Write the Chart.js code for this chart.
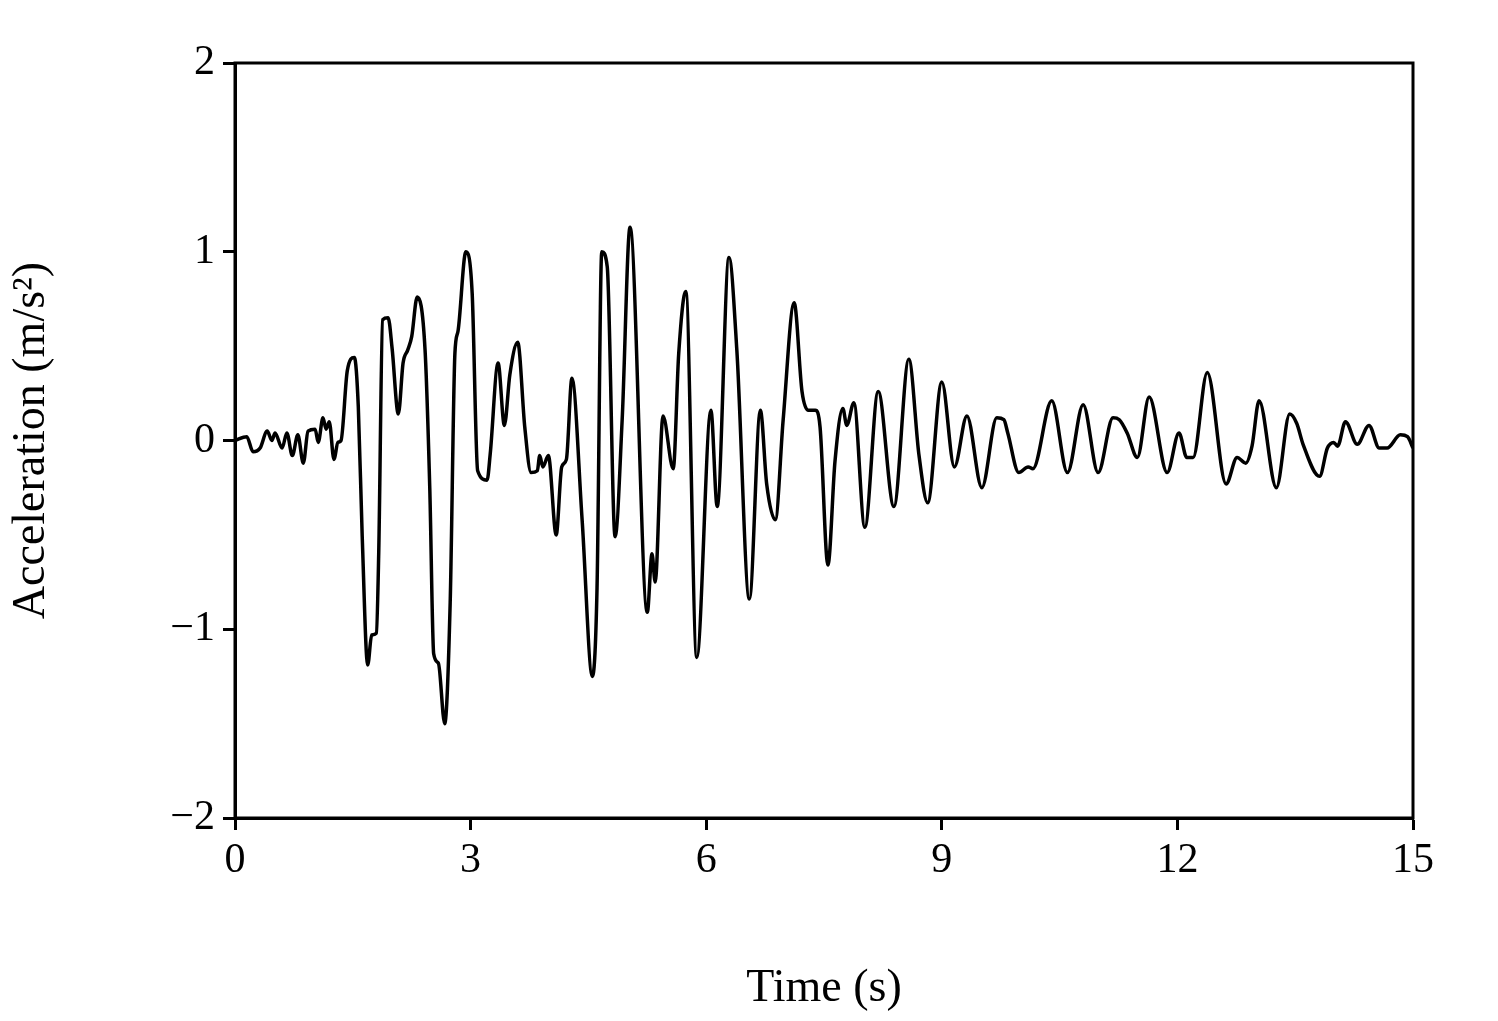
<!DOCTYPE html>
<html>
<head>
<meta charset="utf-8">
<style>
  html, body { margin: 0; padding: 0; background: #fff; }
  #wrap { width: 1498px; height: 1021px; }
</style>
<script src="https://cdn.jsdelivr.net/npm/chart.js@4/dist/chart.umd.min.js"></script>
</head>
<body>
<div id="wrap"><canvas id="accChart"></canvas></div>
<script>
// time (s) and acceleration (m/s^2)
const timeS = [0.00,0.15,0.23,0.32,0.41,0.47,0.51,0.60,0.66,0.73,0.80,0.87,0.93,1.02,1.06,1.12,1.16,1.20,1.26,1.31,1.35,1.43,1.52,1.57,1.62,1.69,1.74,1.80,1.83,1.88,1.95,2.00,2.08,2.14,2.20,2.25,2.32,2.42,2.48,2.53,2.59,2.67,2.74,2.80,2.84,2.94,3.02,3.09,3.21,3.25,3.35,3.43,3.50,3.60,3.69,3.77,3.85,3.88,3.92,3.99,4.09,4.16,4.22,4.29,4.42,4.55,4.61,4.67,4.74,4.84,4.93,5.03,5.25,5.31,5.35,5.45,5.58,5.65,5.74,5.88,6.06,6.14,6.29,6.39,6.55,6.69,6.77,6.88,6.98,7.12,7.22,7.30,7.39,7.45,7.55,7.64,7.74,7.79,7.88,8.02,8.19,8.39,8.58,8.71,8.82,9.00,9.16,9.32,9.51,9.70,9.79,9.84,9.98,10.10,10.16,10.40,10.60,10.80,10.99,11.18,11.26,11.36,11.49,11.64,11.87,12.02,12.12,12.20,12.38,12.62,12.76,12.87,12.95,13.04,13.26,13.43,13.52,13.60,13.81,13.91,13.99,14.04,14.14,14.29,14.44,14.57,14.67,14.84,14.93,15.00];
const accel = [0.00,0.02,-0.06,-0.04,0.05,0.00,0.04,-0.04,0.04,-0.08,0.03,-0.12,0.05,0.06,-0.01,0.12,0.06,0.10,-0.10,-0.01,0.00,0.37,0.44,0.18,-0.51,-1.19,-1.03,-1.02,-0.60,0.64,0.65,0.49,0.14,0.41,0.48,0.55,0.76,0.48,-0.25,-1.13,-1.18,-1.50,-0.86,0.46,0.58,1.00,0.78,-0.16,-0.21,-0.07,0.41,0.08,0.35,0.52,0.07,-0.17,-0.16,-0.08,-0.14,-0.08,-0.50,-0.14,-0.10,0.33,-0.42,-1.25,-0.78,1.00,0.92,-0.51,0.11,1.13,-0.91,-0.60,-0.75,0.13,-0.15,0.46,0.79,-1.15,0.16,-0.35,0.97,0.48,-0.84,0.16,-0.23,-0.42,0.11,0.73,0.26,0.16,0.16,0.07,-0.66,-0.11,0.17,0.08,0.20,-0.46,0.26,-0.35,0.43,-0.08,-0.33,0.31,-0.14,0.13,-0.25,0.12,0.11,0.04,-0.17,-0.14,-0.15,0.21,-0.17,0.19,-0.17,0.12,0.11,0.04,-0.09,0.23,-0.17,0.04,-0.09,-0.09,0.36,-0.23,-0.09,-0.12,-0.03,0.21,-0.25,0.14,0.09,-0.02,-0.19,-0.04,-0.01,-0.03,0.10,-0.02,0.08,-0.04,-0.04,0.03,0.02,-0.04];
const xTicks = [0, 3, 6, 9, 12, 15];
const yTicks = [-2, -1, 0, 1, 2];

const serif = 'Liberation Serif';

// draws the box around the plot area
const frame = {
    id: 'frame',
    afterDraw(chart) {
        const a = chart.chartArea;
        const c = chart.ctx;
        c.save();
        c.strokeStyle = '#000';
        c.lineWidth = 3;
        c.strokeRect(a.left, a.top, a.right - a.left, a.bottom - a.top);
        c.restore();
    }
};

new Chart(document.getElementById('accChart'), {
    type: 'line',
    data: {
        datasets: [{
            data: timeS.map((t, i) => ({ x: t, y: accel[i] })),
            borderColor: '#000',
            borderWidth: 3.5,
            pointRadius: 0,
            cubicInterpolationMode: 'monotone',
            fill: false
        }]
    },
    options: {
        responsive: true,
        maintainAspectRatio: false,
        animation: false,
        layout: { padding: { top: 63, right: 85, left: 0, bottom: 0 } },
        plugins: { legend: { display: false }, tooltip: { enabled: false } },
        scales: {
            x: {
                type: 'linear', min: 0, max: 15,
                afterBuildTicks: s => { s.ticks = xTicks.map(v => ({ value: v })); },
                afterFit: s => { s.height = 203; },
                grid: { drawOnChartArea: false, tickLength: 12, tickColor: '#000', tickWidth: 3 },
                border: { color: '#000', width: 3 },
                ticks: { color: '#000', font: { family: serif, size: 42 }, padding: 6, maxRotation: 0 },
                title: { display: true, text: 'Time (s)', color: '#000', font: { family: serif, size: 46 }, padding: { top: 4 } }
            },
            y: {
                min: -2, max: 2,
                afterBuildTicks: s => { s.ticks = yTicks.map(v => ({ value: v })); },
                afterFit: s => { s.width = 235; },
                grid: { drawOnChartArea: false, tickLength: 12, tickColor: '#000', tickWidth: 3 },
                border: { color: '#000', width: 3 },
                ticks: {
                    color: '#000', font: { family: serif, size: 42 }, padding: 8,
                    callback: v => String(v).replace('-', '\u2212')
                },
                title: { display: true, text: 'Acceleration (m/s\u00b2)', color: '#000', font: { family: serif, size: 46 }, padding: { bottom: 30 } }
            }
        }
    },
    plugins: [frame]
});
</script>
</body>
</html>
